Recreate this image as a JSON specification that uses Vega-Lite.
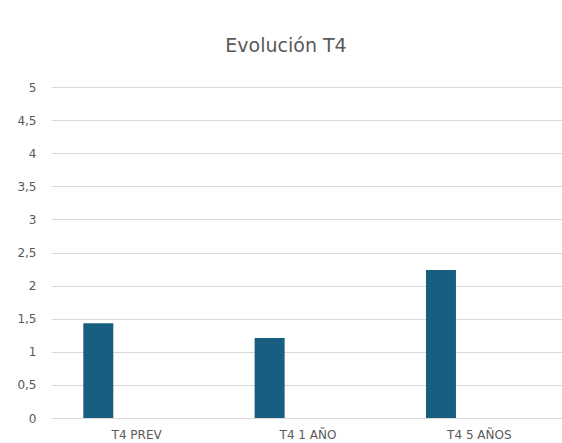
{
  "$schema": "https://vega.github.io/schema/vega-lite/v6.json",
  "autosize": "none",
  "width": 514,
  "height": 331,
  "padding": {"left": 51, "top": 87, "right": 0, "bottom": 25},
  "background": "white",
  "title": {
    "text": "Evolución T4",
    "fontSize": 19,
    "font": "DejaVu Sans",
    "fontWeight": "normal",
    "color": "#595959",
    "anchor": "middle",
    "dx": -22,
    "offset": 25
  },
  "data": {
    "values": [
      {"categoria": "T4 PREV", "serie": "Serie1", "valor": 1.43},
      {"categoria": "T4 1 AÑO", "serie": "Serie1", "valor": 1.21},
      {"categoria": "T4 5 AÑOS", "serie": "Serie1", "valor": 2.235}
    ]
  },
  "mark": {"type": "bar", "color": "#185e80"},
  "encoding": {
    "x": {
      "field": "categoria",
      "type": "nominal",
      "sort": ["T4 PREV", "T4 1 AÑO", "T4 5 AÑOS"],
      "scale": {"paddingInner": 0, "paddingOuter": 0},
      "axis": {
        "title": null,
        "labelAngle": 0,
        "domain": false,
        "ticks": false,
        "labelFont": "DejaVu Sans",
        "labelFontSize": 12,
        "labelColor": "#595959",
        "labelPadding": 11
      }
    },
    "xOffset": {
      "field": "serie",
      "type": "nominal",
      "scale": {"domain": ["Serie1", "Serie2"], "paddingInner": 0.609, "paddingOuter": 0.421}
    },
    "y": {
      "field": "valor",
      "type": "quantitative",
      "scale": {"domain": [0, 5]},
      "axis": {
        "title": null,
        "values": [0, 0.5, 1, 1.5, 2, 2.5, 3, 3.5, 4, 4.5, 5],
        "labelExpr": "replace(format(datum.value, ''), '.', ',')",
        "domain": false,
        "ticks": false,
        "grid": true,
        "gridColor": "#d9d9d9",
        "gridWidth": 1,
        "labelFont": "DejaVu Sans",
        "labelFontSize": 12,
        "labelColor": "#595959",
        "labelPadding": 15
      }
    }
  },
  "config": {"view": {"stroke": null}}
}
